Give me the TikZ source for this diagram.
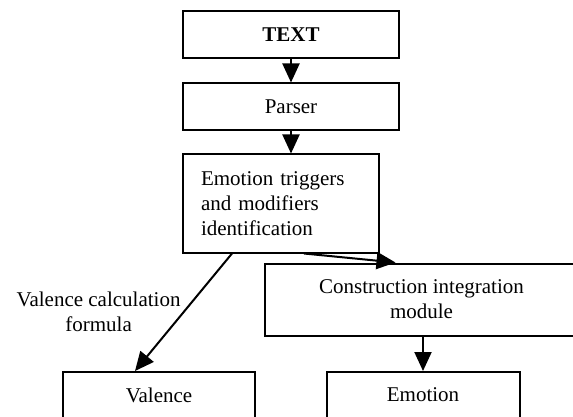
\documentclass[tikz,border=0pt]{standalone}
\usepackage{fontspec}
\setmainfont{Liberation Serif}
\usetikzlibrary{arrows.meta, positioning}

\begin{document}
\begin{tikzpicture}[
        x=0.5pt, y=-0.5pt,
        font=\fontsize{10.5}{12.5}\selectfont,
        box/.style={draw, line width=1pt, rectangle, minimum height=23.5pt, minimum width=108pt, align=center, inner sep=2pt},
        arrow/.style={-{Triangle[length=9.5pt, width=8.5pt]}, line width=1pt}
    ]
        \useasboundingbox (0,0) rectangle (573,417);
        % Nodes
        \node (text) [box] at (291,35) {\textbf{TEXT}};
        \node (parser) [box, below=11.5pt of text] {Parser};
        \node (triggers) [box, minimum width=96pt, minimum height=49pt, text width=80pt, align=left, inner xsep=9pt,
            below=11pt of parser.south west, anchor=north west] {Emotion triggers\\and modifiers\\identification};
        \node (construction) [box, minimum width=156.5pt, minimum height=36pt] at (421.5,299.5) {Construction integration\\module};
        \node (valence) [box, minimum width=96pt, minimum height=23pt] at (159,395) {Valence};
        \node (emotion) [box, minimum width=96.5pt, minimum height=23pt] at (423,395) {Emotion};

        % Paths
        \draw [arrow] (text) -- (parser);
        \draw [arrow] (parser.south) -- (parser.south |- triggers.north);
        \draw [arrow] ([xshift=-24.5pt]triggers.south) -- ([xshift=-12pt]valence.north)
            node[midway, left, inner sep=1pt, align=center] {Valence calculation\\formula};
        \draw [arrow] ([xshift=11.5pt]triggers.south) -- ([xshift=-13pt]construction.north);
        \draw [arrow] (emotion.north |- construction.south) -- (emotion.north);
    \end{tikzpicture}
\end{document}
